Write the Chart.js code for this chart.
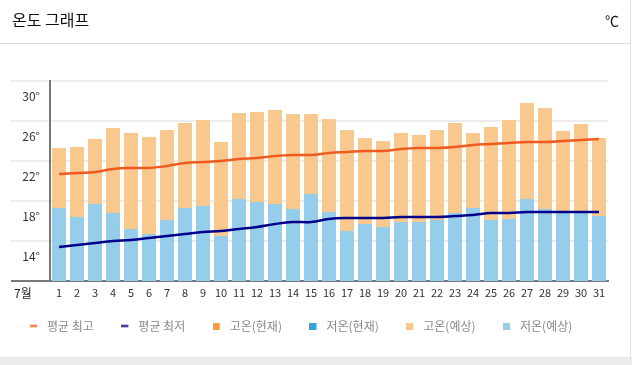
<!DOCTYPE html>
<html>
<head>
<meta charset="utf-8">
<script src="https://cdn.jsdelivr.net/npm/chart.js@4"></script>
<style>
  html, body { margin: 0; padding: 0; background: #fff; }
  body { width: 632px; height: 365px; position: relative; overflow: hidden; font-family: 'Noto Sans CJK KR', sans-serif; }
  #frame { position: absolute; left: 0; top: 0; width: 630px; height: 357px; border-right: 1px solid #e2e2e2; }
  #title { position: absolute; left: 12px; top: 9px; font-size: 16px; color: #111; line-height: 20px; }
  #unit { position: absolute; right: 13px; top: 10px; font-size: 14px; color: #111; line-height: 20px; }
  #sep { position: absolute; left: 0; top: 43px; width: 631px; height: 1px; background: #dcdcdc; }
  #month { position: absolute; left: 14px; top: 285px; font-size: 12px; color: #222; line-height: 16px; }
  #band { position: absolute; left: 0; top: 357px; width: 632px; height: 8px; background: #ebebeb; }
  #wrap { position: absolute; left: 0; top: 0; width: 631px; height: 357px; }
</style>
</head>
<body>
<div id="frame"></div>
<div id="wrap"><canvas id="c"></canvas></div>
<div id="title">온도 그래프</div>
<div id="unit">℃</div>
<div id="sep"></div>
<div id="month">7월</div>
<div id="band"></div>
<script>
const days = ['1','2','3','4','5','6','7','8','9','10','11','12','13','14','15','16','17','18','19','20','21','22','23','24','25','26','27','28','29','30','31'];
const yTicks = [10, 14, 18, 22, 26, 30];
const avgMax = [20.7,20.8,20.9,21.2,21.3,21.3,21.5,21.8,21.9,22.0,22.2,22.3,22.5,22.6,22.6,22.8,22.9,23.0,23.0,23.2,23.3,23.3,23.4,23.6,23.7,23.8,23.9,23.9,24.0,24.1,24.2];
const avgMin = [13.4,13.6,13.8,14.0,14.1,14.3,14.5,14.7,14.9,15.0,15.2,15.4,15.7,15.9,15.9,16.2,16.3,16.3,16.3,16.4,16.4,16.4,16.5,16.6,16.8,16.8,16.9,16.9,16.9,16.9,16.9];
const highCurrent = [];
const lowCurrent = [];
const highForecast = [23.3,23.4,24.2,25.3,24.8,24.4,25.1,25.8,26.1,23.9,26.8,26.9,27.1,26.7,26.7,26.2,25.1,24.3,24.0,24.8,24.6,25.1,25.8,24.8,25.4,26.1,27.8,27.3,25.0,25.7,24.3];
const lowForecast = [17.3,16.4,17.7,16.8,15.2,14.7,16.1,17.3,17.5,14.5,18.2,17.9,17.7,17.2,18.7,16.9,15.0,15.7,15.4,15.9,15.9,16.1,16.8,17.3,16.1,16.2,18.2,17.2,16.8,16.9,16.5];

Chart.defaults.font.family = "'Noto Sans CJK KR', 'Noto Sans', sans-serif";
Chart.defaults.animation = false;

function marker(color, h) {
  const c = document.createElement('canvas');
  c.width = 11; c.height = 7;
  const g = c.getContext('2d');
  g.fillStyle = color;
  g.fillRect(0, (7 - h) / 2, 7, h);
  return c;
}

const LEGEND_PAD = 27.5;
const legendShift = {
  id: 'legendShift',
  afterLayout(chart) {
    const lg = chart.legend;
    if (!lg) return;
    const h = lg.bottom - lg.top;
    lg.top = 320 - LEGEND_PAD;
    lg.bottom = lg.top + h;
  }
};

const barCommon = { type: 'bar', grouped: false, categoryPercentage: 1, barPercentage: 0.78, borderWidth: 0 };

new Chart(document.getElementById('c'), {
  data: {
    labels: days,
    datasets: [
      { type: 'line', label: '평균 최고', data: avgMax, borderColor: '#f05a1e', backgroundColor: '#f05a1e', borderWidth: 2.5, pointRadius: 0, tension: 0.4, order: 0, pointStyle: marker('#f05a1e', 2) },
      { type: 'line', label: '평균 최저', data: avgMin, borderColor: '#00008b', backgroundColor: '#00008b', borderWidth: 2.5, pointRadius: 0, tension: 0.4, order: 0, pointStyle: marker('#00008b', 2) },
      Object.assign({ label: '고온(현재)', data: highCurrent, backgroundColor: '#ff9a3c', order: 2, pointStyle: marker('#ff9a3c', 7) }, barCommon),
      Object.assign({ label: '저온(현재)', data: lowCurrent, backgroundColor: '#2fa3dc', order: 1, pointStyle: marker('#2fa3dc', 7) }, barCommon),
      Object.assign({ label: '고온(예상)', data: highForecast, backgroundColor: '#f8c98e', order: 2, pointStyle: marker('#f8c98e', 7) }, barCommon),
      Object.assign({ label: '저온(예상)', data: lowForecast, backgroundColor: '#96cdea', order: 1, pointStyle: marker('#96cdea', 7) }, barCommon)
    ]
  },
  plugins: [legendShift],
  options: {
    responsive: true,
    maintainAspectRatio: false,
    layout: { padding: { left: 2.5, top: 81, right: 23, bottom: 2.5 } },
    plugins: {
      tooltip: { enabled: false },
      legend: {
        position: 'bottom',
        align: 'start',
        labels: {
          usePointStyle: true,
          pointStyleWidth: 11,
          boxHeight: 7,
          boxWidth: 11,
          padding: LEGEND_PAD,
          color: '#8a8a8a',
          font: { size: 12 },
          sort: (a, b) => a.datasetIndex - b.datasetIndex
        }
      }
    },
    scales: {
      x: {
        grid: { display: false, drawTicks: false },
        border: { display: true, color: '#777', width: 2 },
        ticks: { color: '#333', font: { size: 11, lineHeight: '12px' }, padding: 6, autoSkip: false, maxRotation: 0 }
      },
      y: {
        min: 10, max: 30,
        afterBuildTicks: (s) => { s.ticks = yTicks.map(v => ({ value: v })); },
        grid: {
          color: (ctx) => ctx.tick && ctx.tick.value === 10 ? '#777' : '#ececec',
          lineWidth: 2,
          tickLength: 39
        },
        border: { display: true, color: '#777', width: 2 },
        ticks: {
          color: '#333',
          font: { size: 12 },
          padding: -29,
          labelOffset: 15,
          callback: (v) => v === 10 ? '' : v + '°'
        },
        afterFit: (s) => { s.width = 47.5; }
      }
    }
  }
});
</script>
</body>
</html>
